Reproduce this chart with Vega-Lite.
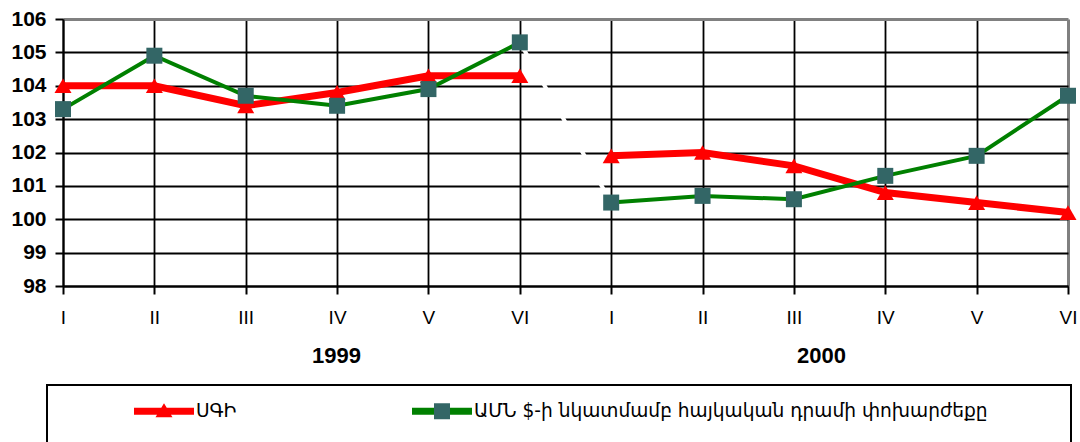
{
  "$schema": "https://vega.github.io/schema/vega-lite/v6.json",
  "width": 1005,
  "height": 267,
  "autosize": {"type": "none"},
  "padding": {"left": 63, "top": 19, "right": 12, "bottom": 156},
  "background": "white",
  "config": {"view": {"stroke": null}, "font": "Liberation Sans"},
  "data": {"values": [
    {"k": "1999|I", "yr": "1999", "s": "ՍԳԻ", "v": 104.0},
    {"k": "1999|II", "yr": "1999", "s": "ՍԳԻ", "v": 104.0},
    {"k": "1999|III", "yr": "1999", "s": "ՍԳԻ", "v": 103.4},
    {"k": "1999|IV", "yr": "1999", "s": "ՍԳԻ", "v": 103.8},
    {"k": "1999|V", "yr": "1999", "s": "ՍԳԻ", "v": 104.3},
    {"k": "1999|VI", "yr": "1999", "s": "ՍԳԻ", "v": 104.3},
    {"k": "2000|I", "yr": "2000", "s": "ՍԳԻ", "v": 101.9},
    {"k": "2000|II", "yr": "2000", "s": "ՍԳԻ", "v": 102.0},
    {"k": "2000|III", "yr": "2000", "s": "ՍԳԻ", "v": 101.6},
    {"k": "2000|IV", "yr": "2000", "s": "ՍԳԻ", "v": 100.8},
    {"k": "2000|V", "yr": "2000", "s": "ՍԳԻ", "v": 100.5},
    {"k": "2000|VI", "yr": "2000", "s": "ՍԳԻ", "v": 100.2},
    {"k": "1999|I", "yr": "1999", "s": "ԱՄՆ $-ի նկատմամբ հայկական դրամի փոխարժեքը", "v": 103.3},
    {"k": "1999|II", "yr": "1999", "s": "ԱՄՆ $-ի նկատմամբ հայկական դրամի փոխարժեքը", "v": 104.9},
    {"k": "1999|III", "yr": "1999", "s": "ԱՄՆ $-ի նկատմամբ հայկական դրամի փոխարժեքը", "v": 103.7},
    {"k": "1999|IV", "yr": "1999", "s": "ԱՄՆ $-ի նկատմամբ հայկական դրամի փոխարժեքը", "v": 103.4},
    {"k": "1999|V", "yr": "1999", "s": "ԱՄՆ $-ի նկատմամբ հայկական դրամի փոխարժեքը", "v": 103.9},
    {"k": "1999|VI", "yr": "1999", "s": "ԱՄՆ $-ի նկատմամբ հայկական դրամի փոխարժեքը", "v": 105.3},
    {"k": "2000|I", "yr": "2000", "s": "ԱՄՆ $-ի նկատմամբ հայկական դրամի փոխարժեքը", "v": 100.5},
    {"k": "2000|II", "yr": "2000", "s": "ԱՄՆ $-ի նկատմամբ հայկական դրամի փոխարժեքը", "v": 100.7},
    {"k": "2000|III", "yr": "2000", "s": "ԱՄՆ $-ի նկատմամբ հայկական դրամի փոխարժեքը", "v": 100.6},
    {"k": "2000|IV", "yr": "2000", "s": "ԱՄՆ $-ի նկատմամբ հայկական դրամի փոխարժեքը", "v": 101.3},
    {"k": "2000|V", "yr": "2000", "s": "ԱՄՆ $-ի նկատմամբ հայկական դրամի փոխարժեքը", "v": 101.9},
    {"k": "2000|VI", "yr": "2000", "s": "ԱՄՆ $-ի նկատմամբ հայկական դրամի փոխարժեքը", "v": 103.7}
  ]},
  "layer": [
    {
      "encoding": {
        "x": {
          "field": "k", "type": "ordinal",
          "scale": {"type": "point", "padding": 0, "domain": ["1999|I", "1999|II", "1999|III", "1999|IV", "1999|V", "1999|VI", "2000|I", "2000|II", "2000|III", "2000|IV", "2000|V", "2000|VI"]},
          "axis": {
            "orient": "bottom", "title": null,
            "labelExpr": "split(datum.value, '|')[1]",
            "labelAngle": 0, "labelFontSize": 19, "labelColor": "black", "labelPadding": 14,
            "tickSize": 8, "tickColor": "black", "tickWidth": 2,
            "domainColor": "black", "domainWidth": 2,
            "grid": true,
            "gridColor": {"condition": {"test": "datum.value === '2000|VI'", "value": "#808080"}, "value": "black"},
            "gridWidth": {"condition": {"test": "datum.value === '2000|VI'", "value": 3}, "value": 1.8}
          }
        },
        "y": {
          "field": "v", "type": "quantitative",
          "scale": {"domain": [98, 106], "nice": false, "zero": false},
          "axis": {
            "title": null, "values": [98, 99, 100, 101, 102, 103, 104, 105, 106],
            "labelFontSize": 21, "labelFontWeight": "bold", "labelColor": "black", "labelPadding": 9,
            "tickSize": 8, "tickColor": "black", "tickWidth": 2,
            "domainColor": "black", "domainWidth": 2,
            "grid": true,
            "gridColor": {"condition": {"test": "datum.value === 106", "value": "#808080"}, "value": "black"},
            "gridWidth": {"condition": {"test": "datum.value === 106", "value": 3}, "value": 1.8}
          }
        }
      },
      "layer": [
        {
          "transform": [{"filter": "datum.s === 'ՍԳԻ'"}],
          "mark": {"type": "line", "strokeWidth": 7},
          "encoding": {
            "color": {
              "field": "s", "type": "nominal",
              "scale": {"domain": ["ՍԳԻ", "ԱՄՆ $-ի նկատմամբ հայկական դրամի փոխարժեքը"], "range": ["#FF0000", "#008000"]},
              "legend": {
                "orient": "none", "legendX": -16, "legendY": 366,
                "direction": "horizontal", "columns": 2, "columnPadding": 104,
                "padding": 16, "strokeColor": "black",
                "title": "\u00a0", "titleOrient": "right", "titleFontSize": 40, "titlePadding": 67,
                "titleFont": "DejaVu Sans", "titleBaseline": "top", "titleAnchor": "start",
                "symbolSize": 400, "symbolOffset": 91, "symbolStrokeWidth": 0, "labelOffset": 22,
                "labelFont": "DejaVu Sans", "labelFontSize": 18.6, "labelLimit": 1000, "labelColor": "black",
                "encode": {
                  "legend": {"update": {"strokeWidth": {"value": 2}}},
                  "symbols": {"update": {
                    "shape": {"signal": "indexof(datum.value, '$') >= 0 ? 'M-3,-0.35L3,-0.35L3,0.35L-3,0.35Z M-0.8,-0.8L0.8,-0.8L0.8,0.8L-0.8,0.8Z' : 'M-3,-0.35L3,-0.35L3,0.35L-3,0.35Z M-0.85,0.6L0,-0.8L0.85,0.6Z'"},
                    "fill": [
                      {"test": "indexof(datum.value, '$') >= 0", "value": {"gradient": "linear", "x1": 0, "y1": 0, "x2": 1, "y2": 0, "stops": [
                        {"offset": 0, "color": "#008000"},
                        {"offset": 0.3667, "color": "#008000"},
                        {"offset": 0.3667, "color": "#336666"},
                        {"offset": 0.6333, "color": "#336666"},
                        {"offset": 0.6333, "color": "#008000"},
                        {"offset": 1, "color": "#008000"}
                      ]}},
                      {"value": "#FF0000"}
                    ],
                    "stroke": {"value": "transparent"},
                    "strokeWidth": {"value": 0}
                  }}
                }
              }
            },
            "detail": {"field": "yr"}
          }
        },
        {
          "transform": [{"filter": "datum.s === 'ՍԳԻ'"}],
          "mark": {"type": "point", "shape": "triangle-up", "filled": true, "color": "#FF0000", "size": 289, "opacity": 1}
        },
        {
          "transform": [{"filter": "datum.s !== 'ՍԳԻ'"}],
          "mark": {"type": "line", "strokeWidth": 4},
          "encoding": {
            "color": {"field": "s", "type": "nominal"},
            "detail": {"field": "yr"}
          }
        },
        {
          "transform": [{"filter": "datum.s !== 'ՍԳԻ' && (datum.k === '1999|VI' || datum.k === '2000|I')"}],
          "mark": {"type": "line", "color": "white", "strokeWidth": 4},
          "encoding": {}
        },
        {
          "transform": [{"filter": "datum.s !== 'ՍԳԻ'"}],
          "mark": {"type": "point", "shape": "square", "filled": true, "color": "#336666", "size": 256, "opacity": 1}
        }
      ]
    },
    {
      "mark": {"type": "point", "opacity": 0},
      "encoding": {
        "x": {
          "field": "yr", "type": "ordinal",
          "scale": {"type": "point", "domain": ["1999", "2000"], "padding": 0.536, "align": 0.525},
          "axis": {
            "orient": "bottom", "offset": 50, "title": null,
            "domain": false, "ticks": false, "tickSize": 0, "grid": false,
            "labelAngle": 0, "labelFontSize": 22, "labelFontWeight": "bold", "labelColor": "black", "labelPadding": 9
          }
        }
      }
    }
  ],
  "resolve": {"scale": {"x": "independent"}, "axis": {"x": "independent"}}
}
